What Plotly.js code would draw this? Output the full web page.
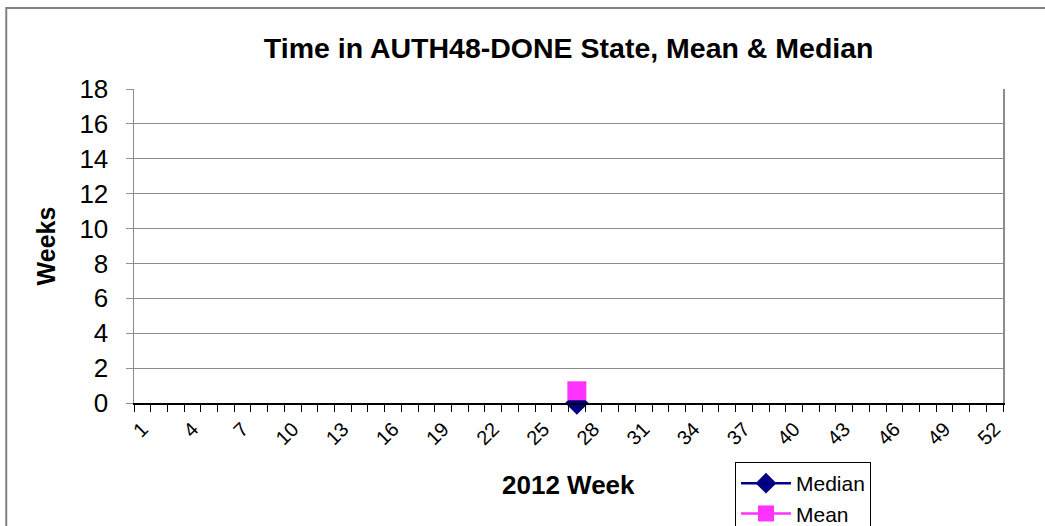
<!DOCTYPE html>
<html>
<head>
<meta charset="utf-8">
<script src="https://cdn.plot.ly/plotly-3.0.1.min.js"></script>
<style>html,body{margin:0;padding:0;background:#fff}</style>
</head>
<body>
<div id="chart" style="width:1045px;height:526px"></div>
<script>
// Data
const weeks = [27];
const medianWeeks = [0];
const meanWeeks = [0.7];
const weekTickVals = [1,4,7,10,13,16,19,22,25,28,31,34,37,40,43,46,49,52];
const weekTickText = ["1","4","7","10","13","16","19","22","25","28","31","34","37","40","43","46","49","52"];
const yTicks = [0,2,4,6,8,10,12,14,16,18];
const xAxisTitle = '2012 Week';

const traces = [
  {x: weeks, y: medianWeeks, name: 'Median', type: 'scatter', mode: 'lines+markers',
   line: {color: '#000080', width: 2.5},
   marker: {symbol: 'diamond', size: 18, color: '#000080'}, cliponaxis: false},
  {x: weeks, y: meanWeeks, name: 'Mean', type: 'scatter', mode: 'lines+markers',
   line: {color: '#ff33ff', width: 2.5},
   marker: {symbol: 'square', size: 19, color: '#ff33ff'}, cliponaxis: false}
];

const layout = {
  width: 1045, height: 526,
  margin: {l: 134, r: 42, t: 89, b: 123},
  paper_bgcolor: '#fff', plot_bgcolor: '#fff',
  font: {family: 'Liberation Sans, Arial, sans-serif', color: '#000'},
  title: {text: '<b>Time in AUTH48-DONE State, Mean & Median</b>', font: {size: 28.5}, x: 0.5442, xanchor: 'center', y: 0.908, yanchor: 'middle', automargin: false},
  showlegend: true,
  legend: {xref: 'paper', yref: 'container', x: 0.6916, y: 0.1217, xanchor: 'left', yanchor: 'top',
           bordercolor: '#000', borderwidth: 1,
           bgcolor: '#fff', font: {size: 21}, tracegroupgap: 0, itemwidth: 50},
  xaxis: {
    type: 'linear', range: [0.5, 52.5], tickmode: 'array', tickvals: weekTickVals, ticktext: weekTickText,
    tickangle: -45, tickfont: {size: 20}, ticks: '', showgrid: false, zeroline: false, automargin: false,
    showline: true, linecolor: '#000', linewidth: 1.5, ticklabelstandoff: 5
    ,minor: {tick0: 0.5, dtick: 1, ticks: 'outside', ticklen: 7, tickcolor: '#000', tickwidth: 1, showgrid: false}
  },
  yaxis: {
    range: [0, 18], tickmode: 'array', tickvals: yTicks, tickfont: {size: 26}, automargin: false,
    ticks: 'outside', ticklen: 7, tickcolor: '#909090', showgrid: true, gridcolor: '#8c8c8c', gridwidth: 1,
    zeroline: false, showline: true, mirror: true, linecolor: '#8c8c8c', linewidth: 1.5,
    ticklabelstandoff: 12,
    title: {text: '<b>Weeks</b>', font: {size: 25}, standoff: 16}
  },
  annotations: [
    {text: '<b>' + xAxisTitle + '</b>', xref: 'paper', yref: 'paper', x: 0.5, y: -0.261,
     xanchor: 'center', yanchor: 'middle', showarrow: false, font: {size: 26}}
  ],
  shapes: [
    {type: 'rect', xref: 'paper', yref: 'paper', x0: -0.147, x1: 1.2, y0: 1.258, y1: -0.5,
     line: {color: '#808080', width: 2}, fillcolor: 'rgba(0,0,0,0)', layer: 'below'}
  ]
};

Plotly.newPlot('chart', traces, layout, {displayModeBar: false, staticPlot: true});
</script>
</body>
</html>
